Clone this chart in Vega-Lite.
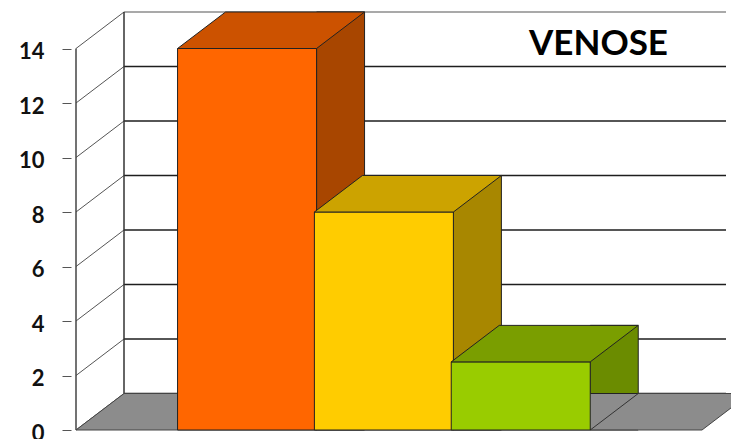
{
  "$schema": "https://vega.github.io/schema/vega-lite/v6.json",
  "width": 660,
  "height": 430,
  "autosize": {"type": "none"},
  "padding": {"left": 71, "top": 0, "right": 0, "bottom": 9},
  "background": "white",
  "config": {
    "view": {"stroke": null},
    "axisY": {
      "domain": false, "grid": false, "title": null,
      "tickSize": 9, "tickColor": "#555555", "tickWidth": 1,
      "labelFont": "Lato", "labelFontWeight": "bold", "labelFontSize": 22,
      "labelColor": "#111111", "labelPadding": 18, "labelOffset": 3
    }
  },
  "title": {
    "text": "VENOSE",
    "anchor": "end",
    "frame": "group",
    "orient": "top",
    "offset": 0,
    "dx": -63,
    "dy": 90,
    "baseline": "alphabetic",
    "font": "Lato",
    "fontWeight": "bold",
    "fontSize": 35,
    "color": "#000000"
  },
  "datasets": {
    "bars": [
      {"bar": 1, "value": 14},
      {"bar": 2, "value": 8},
      {"bar": 3, "value": 2.5}
    ],
    "ticks": [
      {"tick": 0}, {"tick": 2}, {"tick": 4}, {"tick": 6},
      {"tick": 8}, {"tick": 10}, {"tick": 12}, {"tick": 14}
    ]
  },
  "data": {"name": "bars"},
  "resolve": {"scale": {"fill": "independent"}},
  "layer": [
    {
      "data": {"name": "ticks"},
      "mark": {"type": "rule", "xOffset": 48, "yOffset": -36.5, "strokeWidth": 1.5},
      "encoding": {
        "x": {"datum": -0.25, "type": "quantitative", "scale": {"domain": [-0.25, 4.5], "nice": false, "zero": false}, "axis": null},
        "x2": {"datum": 4.5},
        "y": {"field": "tick", "type": "quantitative", "scale": {"domain": [0, 15.78], "nice": false, "zero": false}, "axis": {"values": [0, 2, 4, 6, 8, 10, 12, 14]}},
        "stroke": {"condition": {"test": "datum.tick == 14", "value": "#8c8c8c"}, "value": "#1e1e1e"}
      }
    },
    {
      "data": {"name": "ticks"},
      "mark": {"type": "rule", "x2Offset": 48, "y2Offset": -36.5, "stroke": "#555555", "strokeWidth": 1},
      "encoding": {
        "x": {"datum": -0.25, "type": "quantitative", "scale": {"domain": [-0.25, 4.5], "nice": false, "zero": false}, "axis": null},
        "x2": {"datum": -0.25},
        "y": {"field": "tick", "type": "quantitative", "scale": {"domain": [0, 15.78], "nice": false, "zero": false}, "axis": {"values": [0, 2, 4, 6, 8, 10, 12, 14]}},
        "y2": {"field": "tick"}
      }
    },
    {
      "data": {"values": [{}]},
      "mark": {"type": "rule", "xOffset": 48, "yOffset": -36.5, "y2Offset": -36.5, "stroke": "#333333", "strokeWidth": 1.5},
      "encoding": {
        "x": {"datum": -0.25, "type": "quantitative", "scale": {"domain": [-0.25, 4.5], "nice": false, "zero": false}, "axis": null},
        "y": {"datum": 0, "type": "quantitative", "scale": {"domain": [0, 15.78], "nice": false, "zero": false}, "axis": {"values": [0, 2, 4, 6, 8, 10, 12, 14]}},
        "y2": {"datum": 14}
      }
    },
    {
      "data": {"values": [{}]},
      "mark": {"type": "rule", "stroke": "#444444", "strokeWidth": 1.5},
      "encoding": {
        "x": {"datum": -0.25, "type": "quantitative", "scale": {"domain": [-0.25, 4.5], "nice": false, "zero": false}, "axis": null},
        "y": {"datum": 0, "type": "quantitative", "scale": {"domain": [0, 15.78], "nice": false, "zero": false}, "axis": {"values": [0, 2, 4, 6, 8, 10, 12, 14]}},
        "y2": {"datum": 14}
      }
    },
    {
      "data": {"values": [{}]},
      "mark": {"type": "point", "shape": "M0,0L626,0L674,-36.5L48,-36.5Z", "size": 4, "filled": true, "opacity": 1, "fill": "#8c8c8c", "stroke": "#444444", "strokeWidth": 1},
      "encoding": {
        "x": {"datum": -0.25, "type": "quantitative", "scale": {"domain": [-0.25, 4.5], "nice": false, "zero": false}, "axis": null},
        "y": {"datum": 0, "type": "quantitative", "scale": {"domain": [0, 15.78], "nice": false, "zero": false}, "axis": {"values": [0, 2, 4, 6, 8, 10, 12, 14]}}
      }
    },
    {
      "mark": {"type": "bar", "orient": "vertical", "width": 48, "xOffset": 93.5, "yOffset": -36.5, "stroke": "#222222", "strokeWidth": 1},
      "encoding": {
        "x": {"field": "bar", "type": "quantitative", "scale": {"domain": [-0.25, 4.5], "nice": false, "zero": false}, "axis": null},
        "y": {"field": "value", "type": "quantitative", "scale": {"domain": [0, 15.78], "nice": false, "zero": false}, "axis": {"values": [0, 2, 4, 6, 8, 10, 12, 14]}},
        "fill": {"field": "bar", "type": "nominal", "scale": {"domain": [1, 2, 3], "range": ["#a84600", "#a88700", "#6b8c00"]}, "legend": null}
      }
    },
    {
      "mark": {"type": "point", "shape": "M117.5,0L69.5,0L117.5,-36.5", "size": 4, "filled": true, "opacity": 1, "fill": "#8c8c8c", "stroke": "#333333", "strokeWidth": 1},
      "encoding": {
        "x": {"field": "bar", "type": "quantitative", "scale": {"domain": [-0.25, 4.5], "nice": false, "zero": false}, "axis": null},
        "y": {"datum": 0, "type": "quantitative", "scale": {"domain": [0, 15.78], "nice": false, "zero": false}, "axis": {"values": [0, 2, 4, 6, 8, 10, 12, 14]}}
      }
    },
    {
      "mark": {"type": "bar", "orient": "vertical", "width": 139, "stroke": "#222222", "strokeWidth": 1},
      "encoding": {
        "x": {"field": "bar", "type": "quantitative", "scale": {"domain": [-0.25, 4.5], "nice": false, "zero": false}, "axis": null},
        "y": {"field": "value", "type": "quantitative", "scale": {"domain": [0, 15.78], "nice": false, "zero": false}, "axis": {"values": [0, 2, 4, 6, 8, 10, 12, 14]}},
        "fill": {"field": "bar", "type": "nominal", "scale": {"domain": [1, 2, 3], "range": ["#ff6600", "#ffcc00", "#99cc00"]}, "legend": null}
      }
    },
    {
      "mark": {"type": "point", "shape": "M-69.5,0L69.5,0L117.5,-36.5L-21.5,-36.5Z", "size": 4, "filled": true, "opacity": 1, "stroke": "#222222", "strokeWidth": 1},
      "encoding": {
        "x": {"field": "bar", "type": "quantitative", "scale": {"domain": [-0.25, 4.5], "nice": false, "zero": false}, "axis": null},
        "y": {"field": "value", "type": "quantitative", "scale": {"domain": [0, 15.78], "nice": false, "zero": false}, "axis": {"values": [0, 2, 4, 6, 8, 10, 12, 14]}},
        "fill": {"field": "bar", "type": "nominal", "scale": {"domain": [1, 2, 3], "range": ["#cc5200", "#cca300", "#7a9e00"]}, "legend": null}
      }
    }
  ]
}
